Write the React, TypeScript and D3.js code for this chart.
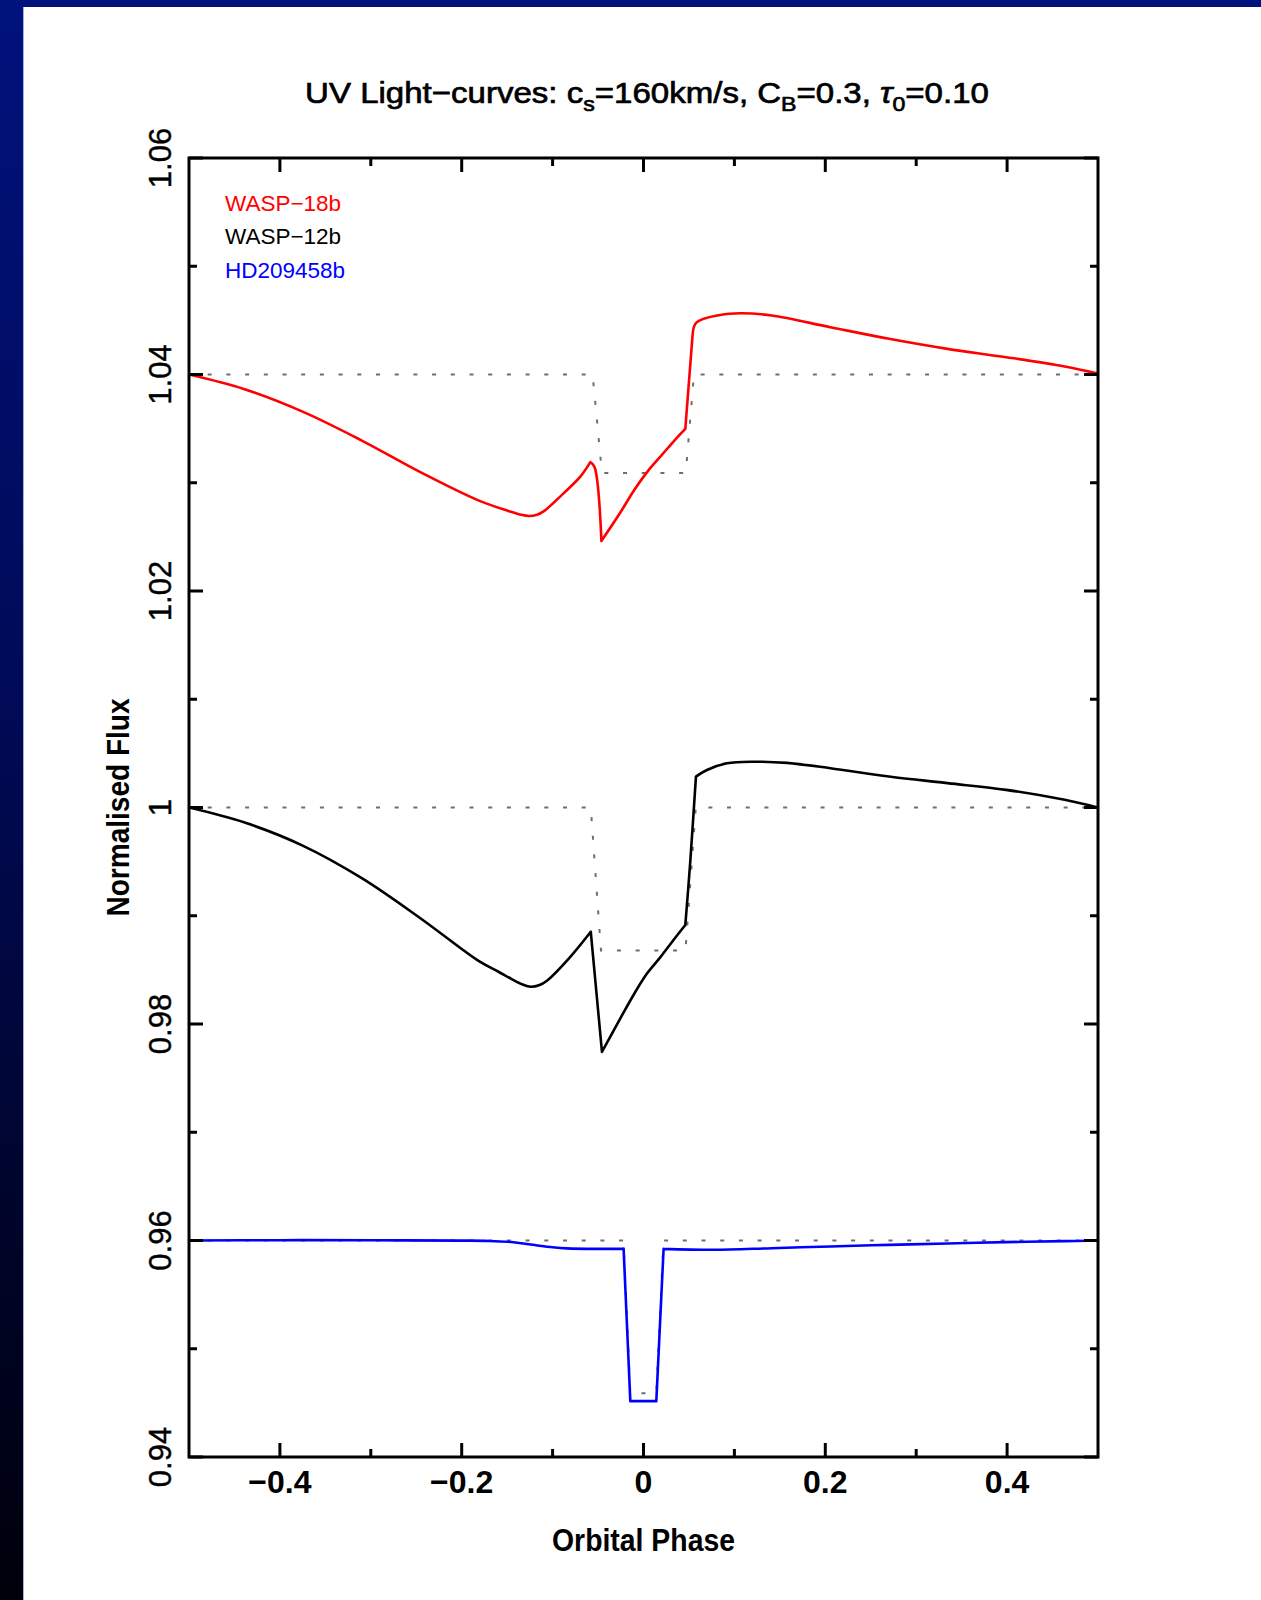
import React, { useRef, useEffect } from "react";
import * as d3 from "d3";

const W = 1261;
const H = 1600;

// axis ticks
const phaseTicks = [-0.4, -0.2, 0, 0.2, 0.4];
const phaseTickLabels = ["−0.4", "−0.2", "0", "0.2", "0.4"];
const phaseMinorTicks = [-0.3, -0.1, 0.1, 0.3];
const fluxTicks = [0.94, 0.96, 0.98, 1.0, 1.02, 1.04, 1.06];
const fluxTickLabels = ["0.94", "0.96", "0.98", "1", "1.02", "1.04", "1.06"];
const fluxMinorTicks = [0.95, 0.97, 0.99, 1.01, 1.03, 1.05];

// light curves [phase, flux]
const wasp18b: [number, number][] = [
  [-0.5, 1.04], [-0.4388, 1.03864], [-0.3744, 1.03655], [-0.3099, 1.0339],
  [-0.2455, 1.03098], [-0.181, 1.02835], [-0.1488, 1.0274], [-0.135, 1.02705],
  [-0.126, 1.02693], [-0.117, 1.02705], [-0.1099, 1.02735], [-0.088, 1.02902],
  [-0.0695, 1.03056], [-0.0585, 1.0319], [-0.054, 1.03148], [-0.0463, 1.02462],
  [-0.0264, 1.02713], [-0.01, 1.02935], [0.005, 1.0311], [0.02, 1.03255],
  [0.034, 1.0339], [0.046, 1.03497], [0.054, 1.04366], [0.0581, 1.04479],
  [0.0845, 1.0455], [0.1065, 1.04566], [0.1411, 1.04545], [0.2056, 1.04437],
  [0.27, 1.0433], [0.3344, 1.04237], [0.3989, 1.0416], [0.4633, 1.04074],
  [0.5, 1.04008],
];
const wasp18bKinks = [-0.0585, -0.0463, 0.046, 0.054];

const wasp12b: [number, number][] = [
  [-0.5, 1.0], [-0.4388, 0.99861], [-0.3744, 0.99646], [-0.3099, 0.99347],
  [-0.2455, 0.98977], [-0.181, 0.9858], [-0.16, 0.98485], [-0.145, 0.98415],
  [-0.133, 0.98365], [-0.124, 0.98344], [-0.115, 0.98358], [-0.1062, 0.984],
  [-0.0805, 0.98621], [-0.058, 0.98852], [-0.0457, 0.97743], [-0.0264, 0.98038],
  [-0.01, 0.98282], [0.004, 0.98468], [0.0184, 0.98615], [0.032, 0.98765],
  [0.046, 0.98914], [0.0513, 0.99484], [0.0577, 1.00285], [0.0698, 1.00346],
  [0.0918, 1.00408], [0.1211, 1.00423], [0.1578, 1.00412], [0.2056, 1.00363],
  [0.27, 1.00286], [0.3344, 1.00225], [0.3989, 1.00163], [0.4633, 1.00071],
  [0.5, 1.0],
];
const wasp12bKinks = [-0.058, -0.0457, 0.046, 0.0577];

const hd209458b: [number, number][] = [
  [-0.5, 0.96], [-0.4, 0.96003], [-0.3, 0.96002], [-0.2, 0.95999],
  [-0.17, 0.95996], [-0.1488, 0.95988], [-0.132, 0.95972], [-0.1166, 0.95954],
  [-0.1, 0.95937], [-0.0844, 0.95927], [-0.0522, 0.95923], [-0.0219, 0.95925],
  [-0.0145, 0.94516], [0.0141, 0.94516], [0.0221, 0.95923], [0.0767, 0.95914],
  [0.1411, 0.95929], [0.2056, 0.95945], [0.27, 0.9596], [0.3344, 0.95972],
  [0.3989, 0.95985], [0.4633, 0.95994], [0.5, 0.96],
];
const hd209458bKinks = [-0.0219, -0.0145, 0.0141, 0.0221];

// dotted geometric transit curves
const wasp18bTransit: [number, number][] = [
  [-0.5, 1.04], [-0.056, 1.04], [-0.0457, 1.0309], [0.0465, 1.0309], [0.0555, 1.04], [0.5, 1.04],
];
const wasp12bTransit: [number, number][] = [
  [-0.5, 1.0], [-0.058, 1.0], [-0.0468, 0.9868], [0.0462, 0.9868], [0.0575, 1.0], [0.5, 1.0],
];
const hd209458bTransit: [number, number][] = [
  [-0.5, 0.96], [-0.022, 0.96], [-0.0145, 0.9459], [0.0141, 0.9459], [0.022, 0.96], [0.5, 0.96],
];

const planetNames = ["WASP−18b", "WASP−12b", "HD209458b"];
const planetColors = ["#ff0000", "#000000", "#0000ff"];

const FONT = "'Liberation Sans', Arial, Helvetica, sans-serif";

// split a series at its sharp corners so each piece can be smoothed on its own
const splitAt = (data: [number, number][], kinks: number[]) => {
  const pieces: [number, number][][] = [];
  let cur: [number, number][] = [];
  data.forEach((p) => {
    cur.push(p);
    if (kinks.includes(p[0])) {
      pieces.push(cur);
      cur = [p];
    }
  });
  if (cur.length > 1) pieces.push(cur);
  return pieces;
};

const App = () => {
  const svgRef = useRef<SVGSVGElement>(null);

  useEffect(() => {
    const svg = d3.select(svgRef.current);
    svg.selectAll("*").remove();

    const margin = { top: 158, right: 163, bottom: 143, left: 189 };
    const x = d3.scaleLinear().domain([-0.5, 0.5]).range([margin.left, W - margin.right]);
    const y = d3.scaleLinear().domain([0.94, 1.06]).range([H - margin.bottom, margin.top]);
    const [x0, x1] = x.range();
    const [y0, y1] = y.range();

    // slide background
    const defs = svg.append("defs");
    const grad = defs
      .append("linearGradient")
      .attr("id", "band")
      .attr("x1", 0).attr("y1", 0).attr("x2", 0).attr("y2", 1);
    grad.append("stop").attr("offset", "0%").attr("stop-color", "#00127c");
    grad.append("stop").attr("offset", "45%").attr("stop-color", "#000a55");
    grad.append("stop").attr("offset", "100%").attr("stop-color", "#00000a");
    defs
      .append("clipPath")
      .attr("id", "plotclip")
      .append("rect")
      .attr("x", x0).attr("y", y1)
      .attr("width", x1 - x0).attr("height", y0 - y1);

    svg.append("rect").attr("width", W).attr("height", H).attr("fill", "#ffffff");
    svg.append("rect").attr("width", W).attr("height", 7).attr("fill", "#00127c");
    svg.append("rect").attr("y", 0).attr("width", 23).attr("height", H).attr("fill", "url(#band)");
    svg.append("rect").attr("x", 23).attr("y", 7).attr("width", 1).attr("height", H).attr("fill", "#5060b0").attr("opacity", 0.5);

    const line = d3
      .line<[number, number]>()
      .x((d) => x(d[0]))
      .y((d) => y(d[1]));
    const smooth = d3
      .line<[number, number]>()
      .x((d) => x(d[0]))
      .y((d) => y(d[1]))
      .curve(d3.curveCatmullRom.alpha(0.5));

    const plot = svg.append("g").attr("clip-path", "url(#plotclip)");

    // dotted transit curves
    plot
      .selectAll(".transit")
      .data([wasp18bTransit, wasp12bTransit, hd209458bTransit])
      .join("path")
      .attr("class", "transit")
      .attr("d", (d) => line(d))
      .attr("fill", "none")
      .attr("stroke", "#6e6e6e")
      .attr("stroke-width", 2)
      .attr("stroke-dasharray", "4 14.7");

    // light curves
    const series = [
      { data: wasp18b, kinks: wasp18bKinks },
      { data: wasp12b, kinks: wasp12bKinks },
      { data: hd209458b, kinks: hd209458bKinks },
    ];
    plot
      .selectAll(".curve")
      .data(series)
      .join("path")
      .attr("class", "curve")
      .attr("d", (s) => splitAt(s.data, s.kinks).map((p) => smooth(p)).join(""))
      .attr("fill", "none")
      .attr("stroke", (d, i) => planetColors[i])
      .attr("stroke-width", 2.6)
      .attr("stroke-linecap", "round")
      .attr("stroke-linejoin", "round");

    // ticks, inward on all four sides
    const tickG = svg.append("g").attr("stroke", "#000").attr("stroke-width", 3);
    const xTicks = [
      ...phaseTicks.map((v) => ({ v, len: 14 })),
      ...phaseMinorTicks.map((v) => ({ v, len: 8 })),
    ];
    const yTicks = [
      ...fluxTicks.map((v) => ({ v, len: 14 })),
      ...fluxMinorTicks.map((v) => ({ v, len: 8 })),
    ];
    tickG.selectAll(".xb").data(xTicks).join("line").attr("class", "xb")
      .attr("x1", (d) => x(d.v)).attr("x2", (d) => x(d.v))
      .attr("y1", y0).attr("y2", (d) => y0 - d.len);
    tickG.selectAll(".xt").data(xTicks).join("line").attr("class", "xt")
      .attr("x1", (d) => x(d.v)).attr("x2", (d) => x(d.v))
      .attr("y1", y1).attr("y2", (d) => y1 + d.len);
    tickG.selectAll(".yl").data(yTicks).join("line").attr("class", "yl")
      .attr("y1", (d) => y(d.v)).attr("y2", (d) => y(d.v))
      .attr("x1", x0).attr("x2", (d) => x0 + d.len);
    tickG.selectAll(".yr").data(yTicks).join("line").attr("class", "yr")
      .attr("y1", (d) => y(d.v)).attr("y2", (d) => y(d.v))
      .attr("x1", x1).attr("x2", (d) => x1 - d.len);

    // frame
    svg
      .append("rect")
      .attr("x", x0).attr("y", y1)
      .attr("width", x1 - x0).attr("height", y0 - y1)
      .attr("fill", "none")
      .attr("stroke", "#000")
      .attr("stroke-width", 3);

    // tick labels
    svg
      .selectAll(".xlab")
      .data(phaseTicks)
      .join("text")
      .attr("class", "xlab")
      .attr("x", (d) => x(d))
      .attr("y", 1493)
      .attr("text-anchor", "middle")
      .attr("font-family", FONT)
      .attr("font-size", 32)
      .attr("font-weight", "bold")
      .text((d, i) => phaseTickLabels[i]);

    svg
      .selectAll(".ylab")
      .data(fluxTicks)
      .join("text")
      .attr("class", "ylab")
      .attr("transform", (d) => `translate(171,${y(d)}) rotate(-90)`)
      .attr("text-anchor", "middle")
      .attr("font-family", FONT)
      .attr("font-size", 31)
      .attr("stroke", "#000")
      .attr("stroke-width", 0.4)
      .text((d, i) => fluxTickLabels[i]);

    // fit a label to a measured width
    const fit = (t, target, tx, ty, rot = false) => {
      const w = t.node().getBBox().width;
      t.attr(
        "transform",
        `translate(${tx},${ty})${rot ? " rotate(-90)" : ""} scale(${target / w},1)`
      );
    };

    const xTitle = svg
      .append("text")
      .attr("text-anchor", "middle")
      .attr("font-family", FONT)
      .attr("font-size", 31)
      .attr("font-weight", "bold")
      .text("Orbital Phase");
    fit(xTitle, 183, (x0 + x1) / 2, 1551);

    const yTitle = svg
      .append("text")
      .attr("text-anchor", "middle")
      .attr("font-family", FONT)
      .attr("font-size", 31)
      .attr("font-weight", "bold")
      .text("Normalised Flux");
    fit(yTitle, 219, 129, (y0 + y1) / 2, true);

    // title with subscripts
    const title = svg
      .append("text")
      .attr("text-anchor", "middle")
      .attr("font-family", FONT)
      .attr("font-size", 30)
      .attr("stroke", "#000")
      .attr("stroke-width", 0.7);
    const parts: [string, number, number, boolean][] = [
      ["UV Light−curves: c", 30, 0, false],
      ["s", 21, 8, false],
      ["=160km/s, C", 30, -8, false],
      ["B", 21, 8, false],
      ["=0.3, ", 30, -8, false],
      ["τ", 30, 0, true],
      ["0", 21, 8, false],
      ["=0.10", 30, -8, false],
    ];
    parts.forEach(([s, fs, dy, it]) => {
      title
        .append("tspan")
        .attr("font-size", fs)
        .attr("dy", dy)
        .attr("font-style", it ? "italic" : "normal")
        .text(s);
    });
    fit(title, 684, 647, 103);

    // legend
    svg
      .selectAll(".legend")
      .data(planetNames)
      .join("text")
      .attr("class", "legend")
      .attr("x", 225)
      .attr("y", (d, i) => 210.7 + i * 33.5)
      .attr("font-family", FONT)
      .attr("font-size", 22.5)
      .attr("fill", (d, i) => planetColors[i])
      .text((d) => d);
  }, []);

  return (
    <svg
      ref={svgRef}
      width={W}
      height={H}
      style={{ position: "absolute", left: 0, top: 0, display: "block" }}
    ></svg>
  );
};

export default App;
